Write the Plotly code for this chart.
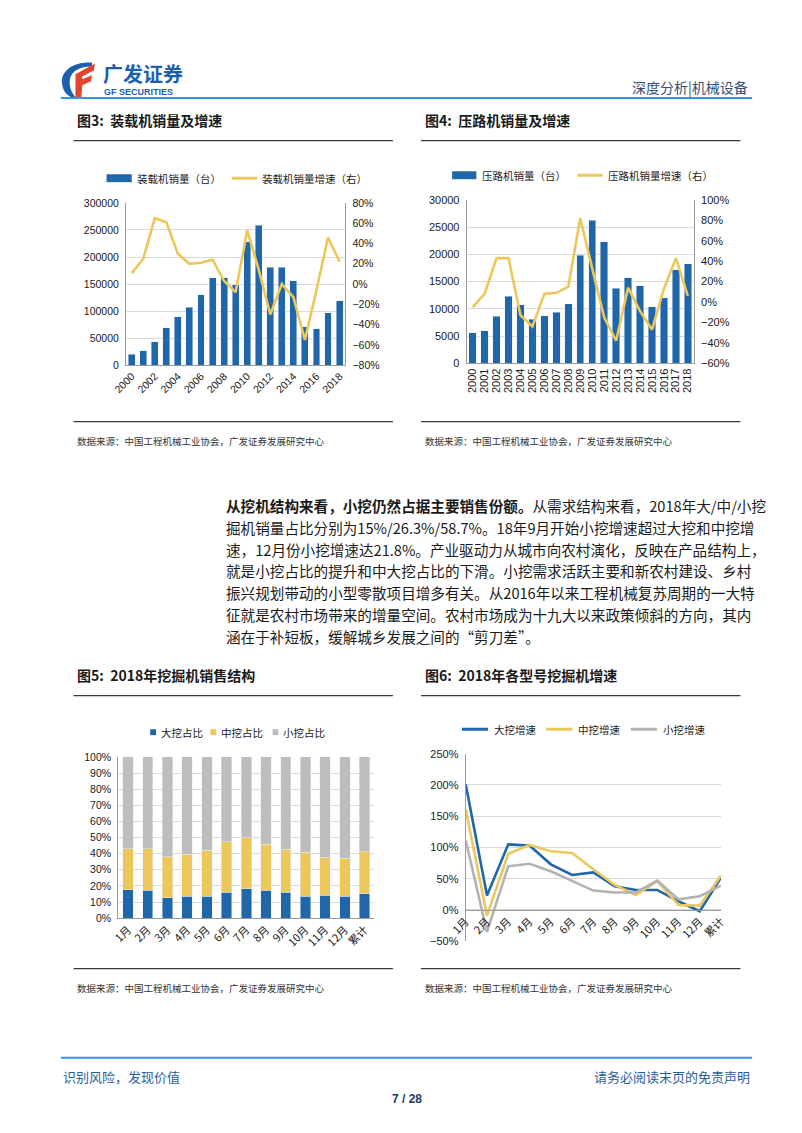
import plotly.graph_objects as go

# The page body keeps its default 8px margin, so the figure is sized to fit the
# 802x1133 window exactly and page coordinates are shifted by that margin.
PAGE_W, PAGE_H, OFF = 802, 1133, 8
W, H = PAGE_W - 2 * OFF, PAGE_H - 2 * OFF


def px(x):
    return (x - OFF) / W


def py(y):
    return 1 - (y - OFF) / H


# ---------------- data ----------------
years = list(range(2000, 2019))
loader_sales = [20200, 26300, 42900, 69200, 89400, 107000, 129800, 161600, 162000, 149000,
                228000, 259000, 181000, 181000, 156000, 71000, 67000, 97000, 119000]
loader_growth = [10.8, 25, 65, 61, 30, 20, 21, 24, 3, -8, 53, 14, -30, 0, -13, -55, -6, 46, 22]

roller_sales = [5600, 6000, 8600, 12300, 10700, 8050, 8700, 9400, 10900, 19800,
                26300, 22300, 13800, 15700, 14200, 10400, 12000, 17200, 18300]
roller_growth = [-5, 8, 43, 43, -13, -24, 8, 9, 15, 82, 33, -15, -38, 14, -9, -27, 13, 43, 6]

months = ["1月", "2月", "3月", "4月", "5月", "6月", "7月", "8月", "9月", "10月", "11月", "12月", "累计"]
large_share = [17.6, 17.4, 12.7, 13.7, 13.5, 16.0, 18.2, 17.2, 16.0, 13.7, 14.3, 13.5, 15.0]
medium_share = [25.4, 25.6, 25.3, 25.8, 28.7, 31.3, 31.8, 28.7, 26.6, 27.1, 23.6, 23.6, 26.3]
small_share = [57.0, 57.0, 62.0, 60.5, 57.8, 52.7, 50.0, 54.1, 57.4, 59.2, 62.1, 62.9, 58.7]

large_growth = [201, 23, 105, 103, 73, 56, 60, 38, 32, 32, 14, -2, 52]
medium_growth = [161, -9, 90, 104, 94, 91, 65, 40, 24, 46, 8, 7, 55]
small_growth = [111, -35, 70, 74, 62, 46, 31, 28, 28, 47, 17, 22, 39]

# ---------------- styles ----------------
BLUE = "#1F67A8"
YELLOW = "#EBC75C"
GRAY = "#BDBDBD"
GRID = "#D9D9D9"
AXIS = "#9A9A9A"
CJK = "Noto Sans CJK SC"
NUM = "Liberation Sans, Arial"
TXT = "#1a1a1a"

fig = go.Figure()

# chart 1
fig.add_trace(go.Bar(x=years, y=loader_sales, marker_color=BLUE, width=0.6,
                     xaxis="x", yaxis="y", showlegend=False))
fig.add_trace(go.Scatter(x=years, y=loader_growth, mode="lines", line=dict(color=YELLOW, width=2.6),
                         xaxis="x", yaxis="y2", showlegend=False))
# chart 2
fig.add_trace(go.Bar(x=years, y=roller_sales, marker_color=BLUE, width=0.62,
                     xaxis="x2", yaxis="y3", showlegend=False))
fig.add_trace(go.Scatter(x=years, y=roller_growth, mode="lines", line=dict(color=YELLOW, width=2.6),
                         xaxis="x2", yaxis="y4", showlegend=False))
# chart 3
for vals, col in [(large_share, BLUE), (medium_share, YELLOW), (small_share, GRAY)]:
    fig.add_trace(go.Bar(x=months, y=vals, marker_color=col, width=0.53,
                         xaxis="x3", yaxis="y5", showlegend=False))
# chart 4
for vals, col in [(large_growth, BLUE), (medium_growth, YELLOW), (small_growth, "#B3B3B3")]:
    fig.add_trace(go.Scatter(x=months, y=vals, mode="lines", line=dict(color=col, width=2.6),
                             xaxis="x4", yaxis="y6", showlegend=False))

tickf = dict(family=NUM, size=11, color=TXT)
tickf_s = dict(family=NUM, size=10.5, color=TXT)

layout = dict(
    width=W, height=H, autosize=False,
    margin=dict(l=0, r=0, t=0, b=0),
    paper_bgcolor="white", plot_bgcolor="rgba(0,0,0,0)",
    barmode="stack", showlegend=False,
    xaxis=dict(domain=[px(112), px(338)], anchor="y", range=[1999.5, 2018.5],
               tickvals=years[::2], tickangle=-45, showgrid=False, showline=True,
               linecolor=AXIS, tickfont=tickf_s, zeroline=False, ticks=""),
    yaxis=dict(domain=[py(363), py(199)], anchor="x", range=[0, 300000], dtick=50000,
               tickformat="d", showgrid=True, gridcolor=GRID, showline=True, linecolor=AXIS,
               zeroline=False, tickfont=tickf_s, ticklabelstandoff=4),
    yaxis2=dict(overlaying="y", side="right", anchor="x", range=[-80, 80], dtick=20,
                ticksuffix="%", showgrid=False, showline=True, linecolor=AXIS,
                zeroline=False, tickfont=tickf_s, ticklabelstandoff=4),
    xaxis2=dict(domain=[px(463), px(697)], anchor="y3", range=[1999.5, 2018.5], dtick=1,
                tickangle=-90, showgrid=False, showline=True, linecolor=AXIS,
                tickfont=tickf, zeroline=False),
    yaxis3=dict(domain=[py(361), py(196)], anchor="x2", range=[0, 30000], dtick=5000,
                tickformat="d", showgrid=True, gridcolor=GRID, showline=True, linecolor=AXIS,
                zeroline=False, tickfont=tickf, ticklabelstandoff=4),
    yaxis4=dict(overlaying="y3", side="right", anchor="x2", range=[-60, 100], dtick=20,
                ticksuffix="%", showgrid=False, showline=True, linecolor=AXIS,
                zeroline=False, tickfont=tickf, ticklabelstandoff=4),
    xaxis3=dict(domain=[px(104), px(368)], anchor="y5", type="category", tickangle=-45,
                showgrid=False, showline=True, linecolor=AXIS,
                tickfont=dict(family=CJK, size=11, color=TXT)),
    yaxis5=dict(domain=[py(922), py(759)], anchor="x3", range=[0, 100], dtick=10,
                ticksuffix="%", showgrid=True, gridcolor=GRID, showline=True, linecolor=AXIS,
                zeroline=False, tickfont=tickf_s, ticklabelstandoff=4),
    xaxis4=dict(domain=[px(462), px(725)], anchor="free", position=py(913.7), type="category",
                tickangle=-45, showgrid=False, showline=True, linecolor=AXIS,
                tickfont=dict(family=CJK, size=11, color=TXT)),
    yaxis6=dict(domain=[py(945.3), py(755.7)], anchor="x4", range=[-50, 250], dtick=50,
                ticksuffix="%", showgrid=True, gridcolor=GRID, showline=True, linecolor=AXIS,
                zeroline=False, tickfont=tickf, ticklabelstandoff=4),
)
fig.update_layout(**layout)

shapes = []
annos = []


def line(x0, y0, x1, y1, color, width):
    shapes.append(dict(type="line", xref="paper", yref="paper",
                       x0=px(x0), y0=py(y0), x1=px(x1), y1=py(y1),
                       line=dict(color=color, width=width)))


def rect(x0, y0, x1, y1, color):
    shapes.append(dict(type="rect", xref="paper", yref="paper",
                       x0=px(x0), y0=py(y0), x1=px(x1), y1=py(y1),
                       fillcolor=color, line=dict(width=0)))


def text(x, y, s, size, color=TXT, family=CJK, anchor="left"):
    annos.append(dict(xref="paper", yref="paper", x=px(x), y=py(y), text=s,
                      showarrow=False, xanchor=anchor, yanchor="middle",
                      font=dict(family=family, size=size, color=color)))


def curve_path(segs, color):
    parts = []
    for seg in segs:
        c = seg[0]
        coords = " ".join(f"{px(a):.5f},{py(b):.5f}" for a, b in seg[1:])
        parts.append(f"{c}{coords}")
    shapes.append(dict(type="path", xref="paper", yref="paper", path=" ".join(parts) + " Z",
                       fillcolor=color, line=dict(width=0)))


# header logo
curve_path([("M", (77, 57)),
            ("C", (58, 56), (46, 65), (46, 76)),
            ("C", (46, 85), (51, 91), (58, 93)),
            ("L", (61, 93)),
            ("C", (56, 88), (54, 83), (54, 77)),
            ("C", (54, 67), (62, 61), (77, 61))], "#1E5FAD")
curve_path([("M", (60, 69)), ("L", (80, 58)), ("L", (79, 65)), ("L", (67, 71)),
            ("L", (67, 74)), ("L", (77, 70)), ("L", (76, 76)), ("L", (67, 80)),
            ("L", (66, 93)), ("L", (60, 93))], "#E2452B")
text(86, 68, "<b>广发证券</b>", 20, "#1E5FAD")
text(87, 87, "<b>GF SECURITIES</b>", 9, "#1E5FAD", family=NUM)
text(755, 82, "深度分析|机械设备", 14, "#34507A", anchor="right")
line(45, 93, 757, 93, "#2B9AD3", 2)

# chart titles, lines and sources
for (tx, ty, title, src_y) in [(60, 115, "图3:  装载机销量及增速", 440),
                               (418, 115, "图4:  压路机销量及增速", 440),
                               (60, 676, "图5:  2018年挖掘机销售结构", 993),
                               (418, 676, "图6:  2018年各型号挖掘机增速", 993)]:
    text(tx, ty, "<b>" + title + "</b>", 14, "#1a1a1a")
    line(tx - 2, ty + 21, tx + 327, ty + 21, "#3a3a3a", 1.2)
    line(tx - 2, src_y - 20, tx + 327, src_y - 20, "#3a3a3a", 1.2)
    text(tx, src_y, "数据来源：中国工程机械工业协会，广发证券发展研究中心", 9.5, "#333333")

# chart 1 legend
rect(92, 170, 118, 178, BLUE)
text(121, 174, "装载机销量（台）", 10.5)
line(221, 174, 247, 174, YELLOW, 3)
text(250, 174, "装载机销量增速（右）", 10.5)
# chart 2 legend
rect(448, 167, 473, 175, BLUE)
text(477, 171, "压路机销量（台）", 10.5)
line(577, 171, 603, 171, YELLOW, 3)
text(607, 171, "压路机销量增速（右）", 10.5)
# chart 3 legend
for x0, col, lab in [(137, BLUE, "大挖占比"), (199, YELLOW, "中挖占比"), (263, GRAY, "小挖占比")]:
    rect(x0, 731, x0 + 6, 737, col)
    text(x0 + 9, 734, lab, 10.5)
# chart 4 legend
for x0, col, lab in [(458, BLUE, "大挖增速"), (545, YELLOW, "中挖增速"), (632, "#B3B3B3", "小挖增速")]:
    line(x0, 731, x0 + 27, 731, col, 3)
    text(x0 + 31, 731, lab, 10.5)

# body text
body = [
    "<b>从挖机结构来看，小挖仍然占据主要销售份额。</b>从需求结构来看，2018年大/中/小挖",
    "掘机销量占比分别为15%/26.3%/58.7%。18年9月开始小挖增速超过大挖和中挖增",
    "速，12月份小挖增速达21.8%。产业驱动力从城市向农村演化，反映在产品结构上，",
    "就是小挖占比的提升和中大挖占比的下滑。小挖需求活跃主要和新农村建设、乡村",
    "振兴规划带动的小型零散项目增多有关。从2016年以来工程机械复苏周期的一大特",
    "征就是农村市场带来的增量空间。农村市场成为十九大以来政策倾斜的方向，其内",
    "涵在于补短板，缓解城乡发展之间的“剪刀差”。",
]
for i, s in enumerate(body):
    text(213, 505 + 22 * i, s, 14.6, "#1a1a1a")

# footer
line(45, 1063, 757, 1063, "#2B9AD3", 2)
text(45, 1082, "识别风险，发现价值", 13, "#2A5C9A")
text(757, 1082, "请务必阅读末页的免责声明", 13, "#2A5C9A", anchor="right")
text(401, 1105, "<b>7 / 28</b>", 12, "#1F3864", family=NUM, anchor="center")

fig.update_layout(shapes=shapes, annotations=annos)
fig.write_html("out.html", config={"displayModeBar": False})
